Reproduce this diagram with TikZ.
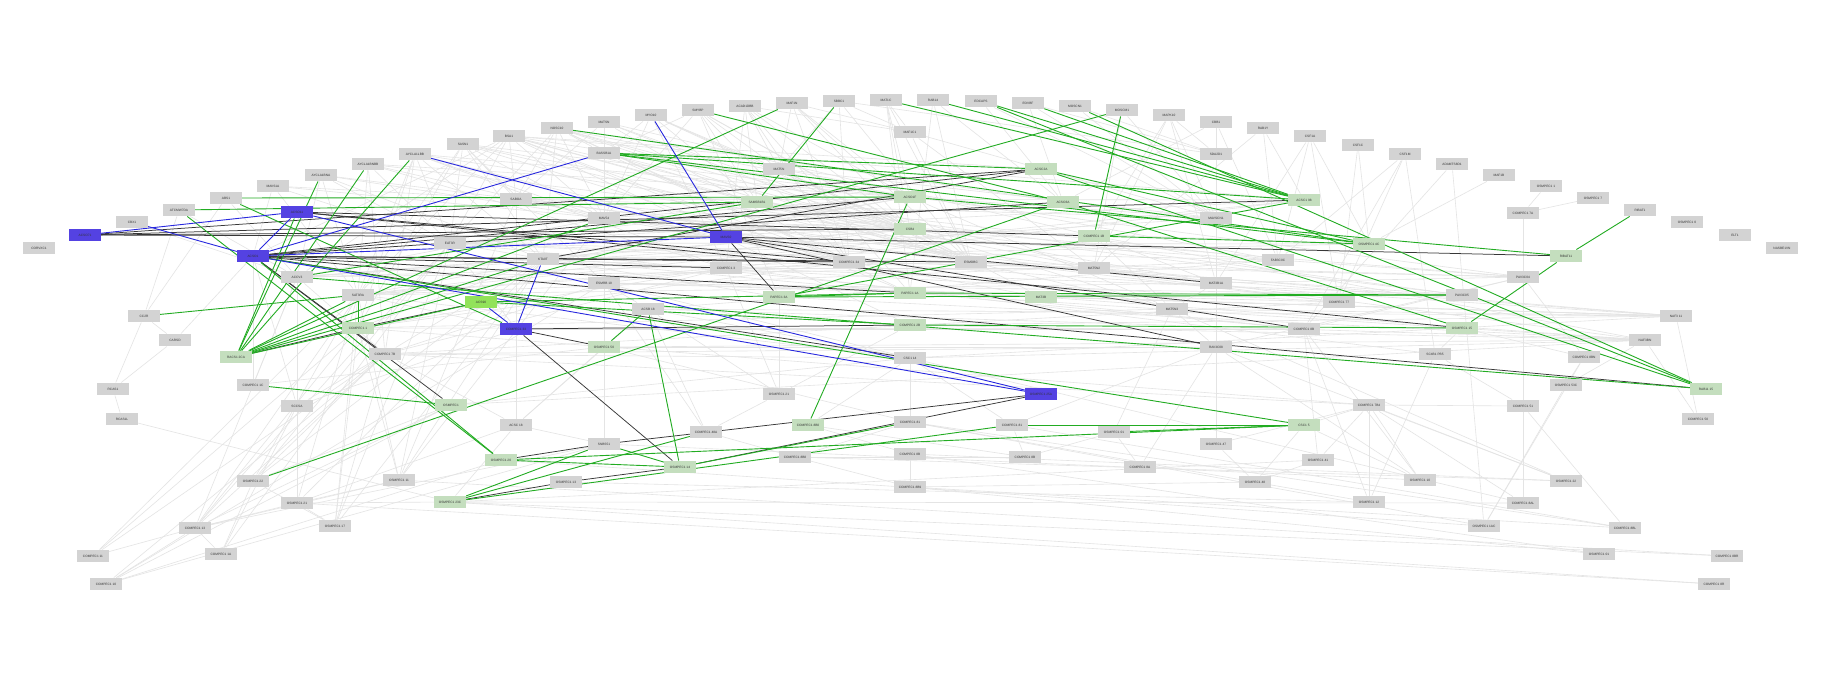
\documentclass[tikz,border=0pt]{standalone}
\usepackage{fontspec}
\setmainfont{Liberation Sans}
\definecolor{ngray}{RGB}{211,211,211}
\definecolor{nlg}{RGB}{196,222,190}
\definecolor{nbg}{RGB}{146,226,90}
\definecolor{nblue}{RGB}{84,66,226}
\definecolor{egray}{RGB}{228,228,228}
\definecolor{edark}{RGB}{55,55,55}
\definecolor{egreen}{RGB}{34,172,34}
\definecolor{eblue}{RGB}{40,40,222}
\pgfdeclarelayer{bgfill}
\pgfdeclarelayer{edges}
\pgfsetlayers{bgfill,edges,main}
\tikzset{
  nbase/.style={rectangle,minimum width=32pt,minimum height=12.5pt,inner sep=0pt,
    font=\fontsize{3.2}{3.6}\selectfont,text=black!80},
  gn/.style={nbase,fill=ngray},
  lg/.style={nbase,fill=nlg},
  bg/.style={nbase,fill=nbg},
  bl/.style={nbase,fill=nblue},
  ge/.style={draw=egray,line width=0.6pt},
  de/.style={draw=edark,line width=0.75pt},
  gre/.style={draw=egreen,line width=0.9pt},
  ble/.style={draw=eblue,line width=0.9pt}
}
\begin{document}
\begin{tikzpicture}[x=1pt,y=-1pt]
\begin{pgfonlayer}{bgfill}
\fill[white] (0,0) rectangle (1844,688);
\end{pgfonlayer}
\useasboundingbox (0,0) rectangle (1844,688);
% top arc
\node[gn] (a1) at (39,248) {CORVXC1};
\node[bl] (a2) at (85,235) {ACSO71};
\node[gn] (a3) at (132,222) {CBX1};
\node[gn] (a4) at (179,210) {ATCMW7DA};
\node[gn] (a5) at (226,198) {ABS1};
\node[gn] (a6) at (273,186) {MAVS1A};
\node[gn] (a7) at (321,175) {AYCLA1BNA};
\node[gn] (a8) at (368,164) {AYCLA1BNBB};
\node[gn] (a9) at (415,154) {AYCLA1LBB};
\node[gn] (a10) at (463,144) {SASN1};
\node[gn] (a11) at (509,136) {BSA1};
\node[gn] (a12) at (557,128) {NOSC10};
\node[gn] (a13) at (604,122) {MATSN};
\node[gn] (a14) at (651,115) {MYO10};
\node[gn] (a15) at (698,110) {SMYBP};
\node[gn] (a16) at (745,106) {ACAD1DBB};
\node[gn] (a17) at (792,103) {MAF1N};
\node[gn] (a18) at (839,101) {SBBC1};
\node[gn] (a19) at (886,100) {MAT1C};
\node[gn] (a20) at (933,100) {RAB14};
\node[gn] (a21) at (981,101) {EDCAPS};
\node[gn] (a22) at (1028,103) {EOVBF};
\node[gn] (a23) at (1075,106) {MOSCN1};
\node[gn] (a24) at (1122,110) {MOSCM1};
\node[gn] (a25) at (1169,115) {MAPK10};
\node[gn] (a26) at (1216,122) {CBB1};
\node[gn] (a27) at (1263,128) {RAB1Y};
\node[gn] (a28) at (1310,136) {CSF1A};
\node[gn] (a29) at (1358,145) {CSF1C};
\node[gn] (a30) at (1405,154) {CSF1M};
\node[gn] (a31) at (1452,164) {ADAMTS8D1};
\node[gn] (a32) at (1499,175) {MAF1B};
\node[gn] (a33) at (1546,186) {OSMPEC1 1};
\node[gn] (a34) at (1593,198) {OSMPEC1 7};
\node[gn] (a35) at (1640,210) {RIBAT1};
\node[gn] (a36) at (1687,222) {OSMPEC1 0};
\node[gn] (a37) at (1735,235) {ELT1};
\node[gn] (a38) at (1782,248) {NASBE1VN};
% inner
\node[bl] (b1) at (297,212) {ACSO11};
\node[bl] (b2) at (253,256) {ACSO1};
\node[gn] (b3) at (450,243) {EAT3R};
\node[gn] (b4) at (604,153) {BASSB1A};
\node[gn] (b5) at (910,132) {MAF1C1};
\node[gn] (b6) at (779,169) {MAT5N};
\node[gn] (b7) at (516,199) {SABOA};
\node[lg] (b8) at (757,202) {SAMSB1B1};
\node[lg] (b9) at (910,197) {ACSO1F};
\node[lg] (b10) at (910,229) {CSB4};
\node[gn] (b11) at (604,218) {MAV54};
\node[bl] (b12) at (726,237) {MAVS0};
\node[gn] (b13) at (543,259) {KTA0T};
\node[gn] (b14) at (726,268) {COMPEC1 3};
\node[gn] (b15) at (849,262) {COMPEC1 34};
\node[gn] (b16) at (1216,154) {SDA2D1};
\node[lg] (b17) at (1041,169) {ACSC2A};
\node[lg] (b18) at (1063,202) {ACSO3A};
\node[lg] (b19) at (1304,200) {ACSC1 98};
\node[gn] (b20) at (1216,218) {MAVSCN1};
\node[lg] (b21) at (1094,236) {COMPEC1 1B};
\node[lg] (b22) at (1369,244) {OSMPEC1 4C};
\node[gn] (b23) at (1278,260) {FAB3C0C};
\node[gn] (b24) at (971,262) {ESMDBC};
\node[gn] (b25) at (1094,268) {MAT5N2};
\node[gn] (b26) at (1523,213) {COMPEC1 7A};
\node[lg] (b27) at (1566,256) {RIBAT11};
\node[gn] (b28) at (297,277) {ACCV3};
\node[gn] (b29) at (358,295) {SAT3RA};
\node[bg] (b30) at (481,302) {ACS90};
\node[gn] (b31) at (144,316) {CC2R};
\node[lg] (b32) at (358,328) {COMPEC1 1};
\node[gn] (b33) at (175,340) {CARSD};
\node[lg] (b34) at (236,357) {RACS1 2CA};
\node[gn] (b35) at (385,354) {COMPEC1 7B};
\node[gn] (b36) at (113,389) {RCAS1};
\node[gn] (b37) at (253,385) {COMPEC1 1C};
\node[gn] (b38) at (297,406) {SCCSA};
\node[lg] (b39) at (451,405) {OSMPEC1};
\node[gn] (b40) at (122,419) {RCAS1L};
\node[gn] (b41) at (604,283) {ESMRB 10};
\node[lg] (b42) at (779,297) {PAPEC1 3A};
\node[lg] (b43) at (910,293) {PAPEC1 1A};
\node[gn] (b44) at (648,309) {ACSB 18};
\node[bl] (b45) at (516,329) {COMPEC1 33};
\node[lg] (b46) at (910,325) {COMPEC1 2B};
\node[lg] (b47) at (604,347) {OSMPEC1 50};
\node[gn] (b48) at (910,358) {CSC1 14};
\node[gn] (b49) at (779,394) {OSMPEC1 21};
\node[gn] (b50) at (516,425) {ACSC 18};
\node[gn] (b51) at (706,432) {COMPEC1 48A};
\node[lg] (b52) at (808,425) {COMPEC1 8B0};
\node[gn] (b53) at (910,422) {COMPEC1 81};
\node[lg] (b54) at (1041,297) {MAT3B};
\node[gn] (b55) at (1216,283) {MAT3B1A};
\node[gn] (b56) at (1172,309) {MAT5N3};
\node[gn] (b57) at (1339,302) {COMPEC1 77};
\node[gn] (b58) at (1304,329) {COMPEC1 8B};
\node[gn] (b59) at (1216,347) {RAV3C08};
\node[bl] (b60) at (1041,394) {OSMPEC1 25A};
\node[gn] (b61) at (1369,405) {COMPEC1 7B4};
\node[gn] (b62) at (1012,425) {COMPEC1 81};
\node[gn] (b63) at (1114,432) {OSMPEC1 01};
\node[lg] (b64) at (1304,425) {CSC1 5};
\node[gn] (b65) at (1523,277) {PAV3C04};
\node[gn] (b66) at (1462,295) {PAV3C05};
\node[lg] (b67) at (1462,328) {OSMPEC1 15};
\node[gn] (b68) at (1676,316) {NAF3 11};
\node[gn] (b69) at (1645,340) {NAF3BN};
\node[gn] (b70) at (1435,354) {SC4B1 PB5};
\node[gn] (b71) at (1584,357) {COMPEC1 8BN};
\node[gn] (b72) at (1566,385) {OSMPEC1 53C};
\node[lg] (b73) at (1706,389) {RAB11 15};
\node[gn] (b74) at (1523,406) {COMPEC1 51};
\node[gn] (b75) at (1698,419) {COMPEC1 50};
\node[gn] (b76) at (253,481) {OSMPEC1 22};
\node[gn] (b77) at (399,480) {OSMPEC1 11};
\node[gn] (b78) at (297,503) {OSMPEC1 21};
\node[lg] (b79) at (450,502) {OSMPEC1 23C};
\node[gn] (b80) at (195,528) {COMPEC1 13};
\node[gn] (b81) at (335,526) {OSMPEC1 17};
\node[gn] (b82) at (93,556) {COMPEC1 11};
\node[gn] (b83) at (221,554) {COMPEC1 1A};
\node[gn] (b84) at (106,584) {COMPEC1 10};
\node[gn] (b85) at (604,444) {SNBS51};
\node[lg] (b86) at (501,460) {OSMPEC1 20};
\node[lg] (b87) at (680,467) {OSMPEC1 14};
\node[gn] (b88) at (795,457) {COMPEC1 8B8};
\node[gn] (b89) at (910,454) {COMPEC1 8B};
\node[gn] (b90) at (566,482) {OSMPEC1 13};
\node[gn] (b91) at (910,487) {COMPEC1 8B9};
\node[gn] (b92) at (1025,457) {COMPEC1 8B};
\node[gn] (b93) at (1216,444) {OSMPEC1 47};
\node[gn] (b94) at (1140,467) {COMPEC1 8A};
\node[gn] (b95) at (1318,460) {OSMPEC1 41};
\node[gn] (b96) at (1255,482) {OSMPEC1 48};
\node[gn] (b97) at (1369,502) {OSMPEC1 12};
\node[gn] (b98) at (1420,480) {OSMPEC1 10};
\node[gn] (b99) at (1566,481) {OSMPEC1 22};
\node[gn] (b100) at (1523,503) {COMPEC1 8AL};
\node[gn] (b101) at (1484,526) {OSMPEC1 1AC};
\node[gn] (b102) at (1625,528) {COMPEC1 8BL};
\node[gn] (b103) at (1599,554) {OSMPEC1 01};
\node[gn] (b104) at (1727,556) {COMPEC1 8BR};
\node[gn] (b105) at (1714,584) {COMPEC1 8R};
\begin{pgfonlayer}{edges}
% light gray edges
\foreach \p/\q in {a3/b28,a4/b28,a4/b31,a5/b31,a5/b28,a6/b2,a6/b29,a7/b29,a7/b28,a8/b29,a8/b35,a8/b3,a9/b3,a9/b29,a9/b35,a9/b32,a9/b13,a9/b11,
a10/b3,a10/b7,a10/b11,a10/b29,a10/b13,a10/b41,a10/b32,a11/b3,a11/b7,a11/b11,a11/b29,a11/b28,a11/b2,a11/b9,a11/b10,a11/b17,a11/b19,a11/b8,
a12/b7,a12/b11,a12/b3,a12/b13,a12/b4,a12/b9,a12/b10,a12/b18,a13/b4,a13/b11,a13/b7,a13/b41,a14/b4,a14/b8,a14/b6,a14/b11,a15/b6,a15/b8,a15/b11,a15/b15,a15/b4,
a16/b6,a16/b8,a16/b5,a16/b15,a16/b9,a16/b14,a17/b5,a17/b9,a17/b6,a18/b5,a18/b16,a18/b6,a19/b5,a19/b10,a19/b9,a22/b16,a22/b18,a23/b16,a25/b16,a25/b20,a25/b21,
a26/b16,a26/b20,a26/b23,a26/b55,a26/b18,a27/b23,a27/b25,a27/b19,a28/b22,a28/b23,a28/b57,a28/b55,a29/b22,a29/b57,a30/b57,a30/b58,a30/b23,a30/b70,a31/b101,a31/b58,a32/b22,
a33/b26,a34/b26,b26/b65,b26/b100,b16/b93,b4/b11,b11/b41,b41/b47,b47/b85,b42/b49,
b3/b19,b3/b22,b3/b23,b11/b23,b11/b22,b11/b57,b7/b19,b7/b20,b7/b55,b13/b57,b13/b58,b29/b19,b29/b23,b29/b55,b28/b20,b28/b25,b32/b58,b32/b56,b35/b57,b35/b48,b35/b59,
b41/b57,b41/b66,b41/b68,b44/b68,b44/b69,b43/b68,b46/b68,b25/b68,b21/b69,b42/b69,b48/b69,b47/b69,b39/b69,b14/b70,b15/b65,b24/b66,b24/b65,b10/b65,b8/b66,b8/b23,
b6/b20,b6/b23,b5/b20,b5/b25,b5/b24,b15/b25,b14/b24,b9/b20,b10/b55,b41/b48,b44/b48,b47/b53,b13/b42,b13/b14,b41/b44,b3/b13,b3/b45,b7/b45,b29/b45,b28/b35,
b2/b37,b2/b38,b28/b37,b28/b38,b2/b33,b31/b36,b33/b36,b36/b40,b40/b79,b33/b31,
b76/b29,b76/b3,b76/b13,b76/b35,b76/b39,b80/b28,b80/b29,b80/b32,b80/b35,b80/b39,b80/b77,b80/b78,b80/b85,b80/b3,b82/b29,b82/b35,b82/b32,b82/b80,
b84/b35,b84/b39,b84/b80,b84/b86,b84/b85,b84/b41,b83/b80,b83/b38,b83/b76,b83/b3,b78/b79,b78/b38,b78/b29,b78/b13,b78/b77,b78/b81,b81/b76,b81/b32,b81/b3,b81/b13,b81/b29,b81/b35,
b77/b32,b77/b3,b77/b11,b77/b13,b77/b29,b77/b7,b38/b45,b38/b35,b37/b47,b50/b45,b50/b47,b50/b44,b50/b35,b50/b78,b50/b79,b50/b85,b49/b44,b49/b46,b49/b42,b49/b14,
b53/b48,b51/b44,b51/b49,b51/b41,b52/b48,b52/b89,b88/b51,b88/b53,b88/b92,b89/b91,b91/b88,
b92/b63,b92/b52,b94/b63,b94/b59,b93/b61,b93/b59,b93/b96,b95/b96,b95/b61,b95/b58,b97/b61,b97/b58,b97/b70,b98/b59,b98/b61,b98/b58,b99/b61,b99/b59,b99/b56,
b100/b61,b100/b48,b101/b72,b101/b53,b102/b62,b102/b53,b103/b89,b103/b91,b104/b77,b104/b79,b105/b79,b105/b78,b101/b71,b72/b69,b72/b71,b75/b69,b75/b68,
b74/b70,b74/b61,b102/b74,b71/b65,b70/b67,b71/b67,b62/b59,b62/b48,b62/b92,b63/b56,b59/b56,b56/b55,b61/b64,b64/b98,b96/b64,b91/b96,b91/b102,b89/b99,b86/b101,
b79/b100,b85/b98,b90/b97,b79/b95,b88/b99,b53/b97,b25/b69,b24/b68,b46/b69,b48/b68,b43/b69,b54/b68,b54/b69,b54/b66,b55/b65,b58/b65,b59/b65,b23/b65,b56/b68,
b9/b65,b10/b66,b14/b66,b15/b68,b44/b23,b41/b19,b13/b22,b7/b57,b3/b58,b29/b48,b32/b61,b35/b61,b39/b48,b47/b59,b45/b58,
a10/b9,a10/b10,a10/b15,a10/b24,a11/b15,a11/b24,a11/b43,a11/b46,a12/b15,a12/b24,a12/b43,a12/b25,a13/b10,a13/b15,a13/b24,a13/b21,a9/b9,a9/b10,a9/b14,a9/b15,
a8/b9,a8/b10,a8/b14,a8/b11,a7/b11,a7/b7,a7/b13,a7/b3,a6/b3,a6/b7,a6/b11,a14/b10,a14/b24,a14/b14,a15/b10,a15/b24,a15/b42,a16/b10,a16/b43,a17/b15,a17/b24,
a17/b10,a18/b15,a18/b24,a19/b24,a19/b43,a20/b24,a20/b43,a20/b18,a21/b18,a21/b20,a22/b20,a23/b20,a24/b20,a24/b25,a25/b25,a25/b55,
b7/b9,b7/b10,b7/b15,b11/b9,b11/b15,b11/b24,b3/b9,b3/b10,b3/b15,b3/b24,b13/b9,b13/b10,b13/b24,b29/b9,b29/b10,b29/b15,b29/b14,b28/b10,b28/b15,b28/b11,b28/b13,
b32/b13,b32/b14,b32/b15,b35/b13,b35/b41,b35/b14,b4/b10,b4/b15,b4/b24,b6/b10,b6/b24,b8/b24,b8/b25,b14/b25,b15/b54,b10/b54,b10/b56,b9/b56,b24/b56,b21/b55,b21/b56}
  \draw[ge] (\p) -- (\q);
% dark edges
\foreach \p/\q in {a2/b12,a2/b19,a2/b17,a2/b10,b2/b9,b2/b14,b2/b15,b2/b24,b2/b43,b2/b48,b2/b35,b2/b39,b2/b73,b2/b18,b2/b17,
b1/b67,b1/b21,b1/b15,b12/b27,b12/b58,b12/b55,b12/b42,b12/b59,b34/b32,b32/b30,b45/b87,b45/b47,b45/b46,b79/b90,b86/b85,b85/b60,b87/b60,b90/b87,b17/b13}
  \draw[de] (\p) -- (\q);
% green edges
\foreach \p/\q in {a4/b86,a4/b8,a5/b9,a5/b45,a7/b34,a8/b34,a9/b34,a17/b34,a24/b34,a24/b21,a18/b8,a15/b18,a12/b22,
b34/b29,b34/b30,b34/b11,b34/b13,b1/b34,b31/b29,b29/b32,b37/b39,b2/b86,b28/b8,b28/b73,b30/b46,b30/b43,b42/b19,b42/b43,b42/b66,b43/b66,
b44/b47,b44/b87,b9/b52,b4/b17,b4/b19,b4/b22,b4/b9,a20/b19,a19/b19,a21/b19,a22/b19,a23/b73,a21/b73,b17/b73,b17/b22,b21/b22,b18/b76,b18/b67,
b46/b67,b9/b27,b27/a35,b27/b67,b62/b64,b63/b64,b2/b64,b79/b85,b79/b51,b79/b62,b86/b87,b85/b87,b87/b53,b86/b64}
  \draw[gre] (\p) -- (\q);
% blue edges
\foreach \p/\q in {a2/b1,a3/b2,b1/b2,b2/b4,a9/b12,a14/b12,b2/b12,b2/b60,b1/b60,b30/b45,b45/b13}
  \draw[ble] (\p) -- (\q);
\end{pgfonlayer}
\end{tikzpicture}
\end{document}
